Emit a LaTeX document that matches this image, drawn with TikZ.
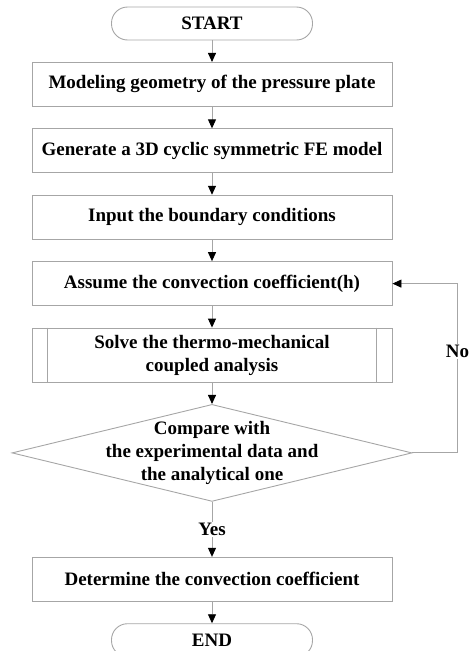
\documentclass[tikz,border=0pt]{standalone}
\usepackage{fontspec}
\setmainfont{Liberation Serif}
\usetikzlibrary{positioning,shapes.geometric,arrows.meta}

\begin{document}
\begin{tikzpicture}[x=1pt,y=1pt,node distance=21.5pt,
                    every node/.style={font=\fontsize{19}{23}\selectfont\bfseries},
                    grey line/.style={draw=black!35,line width=0.9pt},
                    term node/.style={grey line,rectangle,rounded corners=16pt,minimum width=201pt,minimum height=33pt},
                    proc node/.style={grey line,rectangle,minimum width=360pt,minimum height=44pt,align=center},
                    check node/.style={grey line,diamond,aspect=4.12,minimum width=400pt,minimum height=97pt,inner sep=-1em,align=center},
                    flow/.style={grey line,-{Triangle[width=8pt,length=9pt,black]}}]
  \useasboundingbox (0,0) rectangle (475,-651);

  \node[term node] (start) at (212,-23.5) {START};
  \node[proc node] (geom) [below=of start] {Modeling geometry of the pressure plate};
  \node[proc node] (fem) [below=of geom] {Generate a 3D cyclic symmetric FE model};
  \node[proc node] (bc) [below=of fem] {Input the boundary conditions};
  \node[proc node] (assume) [below=of bc] {Assume the convection coefficient(h)};
  \node[proc node,minimum height=54pt] (solve) [below=of assume] {Solve the thermo-mechanical\\coupled analysis};
  \node[check node] (compare) [below=of solve] {Compare with\\the experimental data and\\the analytical one};
  \node[proc node] (determ) [below=55pt of compare] {Determine the convection coefficient};
  \node[term node] (stop) [below=of determ] {END};

  \draw[grey line] ([xshift=16pt]solve.north west) -- ([xshift=16pt]solve.south west)
                   ([xshift=-16pt]solve.north east) -- ([xshift=-16pt]solve.south east);

  \path[flow]
    (start) edge (geom)
    (geom) edge (fem)
    (fem) edge (bc)
    (bc) edge (assume)
    (assume) edge (solve)
    (solve) edge (compare)
    (compare) edge node[fill=white,inner sep=1pt] {Yes} (determ)
    (determ) edge (stop);

  \coordinate (back) at ([xshift=45pt]compare.east);
  \draw[flow] (compare.east) -- (back) |- node[pos=0.3,fill=white,inner sep=1pt] {No} (assume.east);
\end{tikzpicture}
\end{document}
